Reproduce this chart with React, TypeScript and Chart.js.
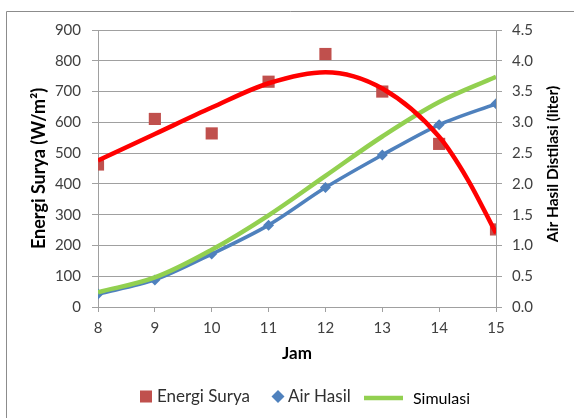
import React, { useEffect, useRef } from "react";
import { Chart, registerables } from "chart.js";

Chart.register(...registerables);

const hours = [8, 9, 10, 11, 12, 13, 14, 15];
const energiSurya = [463, 611, 564, 732, 822, 700, 530, 252];
const trendHours = [8, 9, 10, 11, 12, 13, 14, 14.5, 15];
const energiTrend = [476, 562, 648, 727, 763, 710, 553, 415, 240];
const airHasil = [0.21, 0.44, 0.86, 1.33, 1.94, 2.47, 2.96, 3.3];
const simulasi = [0.24, 0.48, 0.93, 1.49, 2.13, 2.77, 3.33, 3.74];
const seriesNames = ["Energi Surya", "Air Hasil", "Simulasi"];
const xTitle = "Jam";
const yLeftTitle = "Energi Surya (W/m²)";
const yRightTitle = "Air Hasil Distilasi (liter)";

const RED = "#C0504D";
const BLUE = "#4F81BD";
const GREEN = "#92D050";
const TREND = "#FF0000";
const GRID = "#A0A0A0";
const FONT = "Lato";

const pts = (xs: number[], ys: number[]) => xs.map((h, i) => ({ x: h, y: ys[i] }));

const decor = {
  id: "decor",
  afterDraw(chart: any) {
    const ctx = chart.ctx as CanvasRenderingContext2D;
    ctx.save();
    // outer border
    ctx.strokeStyle = "#8C8C8C";
    ctx.lineWidth = 1;
    ctx.beginPath();
    ctx.moveTo(574, 11.5);
    ctx.lineTo(6.5, 11.5);
    ctx.lineTo(6.5, 418);
    ctx.stroke();

    // right axis title (reads bottom to top)
    ctx.save();
    ctx.translate(553, 164);
    ctx.rotate(-Math.PI / 2);
    ctx.font = `bold 15.5px ${FONT}`;
    ctx.fillStyle = "#000";
    ctx.textAlign = "center";
    ctx.textBaseline = "middle";
    ctx.fillText(yRightTitle, 0, 0);
    ctx.restore();

    // legend
    const ly = 396.5;
    ctx.textBaseline = "middle";
    ctx.textAlign = "left";
    ctx.fillStyle = RED;
    ctx.fillRect(140, ly - 6, 12, 12);
    ctx.font = `17px ${FONT}`;
    ctx.fillStyle = "#303030";
    ctx.fillText(seriesNames[0], 157, ly);

    ctx.fillStyle = BLUE;
    ctx.beginPath();
    ctx.moveTo(278 - 6.5, ly);
    ctx.lineTo(278, ly - 6.5);
    ctx.lineTo(278 + 6.5, ly);
    ctx.lineTo(278, ly + 6.5);
    ctx.closePath();
    ctx.fill();
    ctx.fillStyle = "#303030";
    ctx.fillText(seriesNames[1], 288, ly);

    ctx.strokeStyle = GREEN;
    ctx.lineWidth = 4.5;
    ctx.beginPath();
    ctx.moveTo(364, ly + 1.5);
    ctx.lineTo(403, ly + 1.5);
    ctx.stroke();
    ctx.font = `16px ${FONT}`;
    ctx.fillStyle = "#000";
    ctx.fillText(seriesNames[2], 413, ly + 2.5);
    ctx.restore();
  },
};

export default function App() {
  const ref = useRef<HTMLCanvasElement | null>(null);
  useEffect(() => {
    document.body.style.margin = "0";
    if (!ref.current) return;
    const tickFont = { family: FONT, size: 15 };
    const titleFont = { family: FONT, size: 17, weight: "bold" as const };
    const chart = new Chart(ref.current, {
      type: "scatter",
      data: {
        datasets: [
          {
            label: "Trend",
            data: pts(trendHours, energiTrend),
            yAxisID: "y",
            showLine: true,
            borderColor: TREND,
            borderWidth: 4.5,
            pointRadius: 0,
            cubicInterpolationMode: "monotone",
            order: 1,
          } as any,
          {
            label: seriesNames[2],
            data: pts(hours, simulasi),
            yAxisID: "y1",
            showLine: true,
            borderColor: GREEN,
            borderWidth: 4.5,
            pointRadius: 0,
            tension: 0.35,
            order: 2,
          },
          {
            label: seriesNames[0],
            data: pts(hours, energiSurya),
            yAxisID: "y",
            showLine: false,
            pointStyle: "rect",
            pointRadius: 8.6,
            backgroundColor: RED,
            borderWidth: 0,
            order: 3,
          },
          {
            label: seriesNames[1],
            data: pts(hours, airHasil),
            yAxisID: "y1",
            showLine: true,
            borderColor: BLUE,
            borderWidth: 3.5,
            backgroundColor: BLUE,
            pointStyle: "rectRot",
            pointRadius: 5.5,
            pointBorderWidth: 0,
            tension: 0.3,
            order: 4,
          },
        ],
      },
      options: {
        animation: false,
        responsive: false,
        layout: { padding: { left: 0, right: 0, top: 30, bottom: 54 } },
        plugins: { legend: { display: false }, tooltip: { enabled: false } },
        scales: {
          x: {
            type: "linear",
            min: 8,
            max: 15,
            afterFit: (s: any) => {
              s.height = 57;
            },
            ticks: { stepSize: 1, font: tickFont, color: "#404040", padding: 7 },
            grid: { drawOnChartArea: false, drawTicks: true, tickLength: 5, color: GRID },
            border: { color: GRID },
            title: { display: true, text: xTitle, font: titleFont, color: "#000", padding: 0 },
          },
          y: {
            position: "left",
            min: 0,
            max: 900,
            afterFit: (s: any) => {
              s.width = 98;
            },
            ticks: { stepSize: 100, font: tickFont, color: "#404040", padding: 11 },
            grid: { color: GRID, tickLength: 6 },
            border: { color: GRID },
            title: {
              display: true,
              text: yLeftTitle,
              font: { family: FONT, size: 18, weight: "bold" as const },
              color: "#000",
              padding: { top: 28.5, bottom: 0 },
            },
          },
          y1: {
            position: "right",
            min: 0,
            max: 4.5,
            afterFit: (s: any) => {
              s.width = 78;
            },
            ticks: {
              stepSize: 0.5,
              font: tickFont,
              color: "#404040",
              padding: 10,
              callback: (v: any) => Number(v).toFixed(1),
            },
            grid: { drawOnChartArea: false, color: GRID, tickLength: 6 },
            border: { color: GRID },
          },
        },
      },
      plugins: [decor],
    });
    return () => chart.destroy();
  }, []);
  return (
    <div style={{ width: 574, height: 418 }}>
      <canvas ref={ref} width={574} height={418} style={{ display: "block" }} />
    </div>
  );
}
